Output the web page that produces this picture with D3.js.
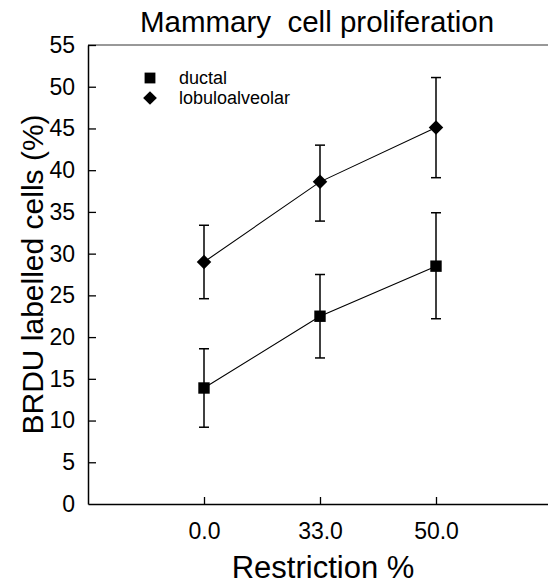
<!DOCTYPE html>
<html>
<head>
<meta charset="utf-8">
<script src="https://cdn.jsdelivr.net/npm/d3@7"></script>
<style>
  body { margin: 0; background: #fff; }
  svg { display: block; font-family: "Liberation Sans", Arial, sans-serif; }
</style>
</head>
<body>
<div id="chart"></div>
<script>
// Setting up sizes
const width = 548;
const height = 586;

const margin = {
  top: 45,
  right: -4,
  bottom: 82,
  left: 88
};

// Data
const restriction = ["0.0", "33.0", "50.0"];
const yTicks = [0, 5, 10, 15, 20, 25, 30, 35, 40, 45, 50, 55];

const ductal = [13.9, 22.5, 28.5];
const ductalLow = [9.2, 17.5, 22.2];
const ductalHigh = [18.6, 27.5, 34.9];

const lobulo = [29.0, 38.6, 45.1];
const lobuloLow = [24.6, 33.9, 39.1];
const lobuloHigh = [33.4, 43.0, 51.1];

const series = [
  { name: "ductal", rot: 0, size: 130, mean: ductal, low: ductalLow, high: ductalHigh },
  { name: "lobuloalveolar", rot: 45, size: 105, mean: lobulo, low: lobuloLow, high: lobuloHigh }
];

const svg = d3.select("#chart")
  .append("svg")
  .attr("width", width)
  .attr("height", height);

// Scales
const x = d3.scalePoint()
  .domain(restriction)
  .range([margin.left, width - margin.right])
  .padding(1);

const y = d3.scaleLinear()
  .domain([0, 55])
  .range([height - margin.bottom, margin.top]);

// Top frame line
svg.append("line")
  .attr("x1", margin.left)
  .attr("x2", width - margin.right)
  .attr("y1", y(55))
  .attr("y2", y(55))
  .attr("stroke", "#333")
  .attr("stroke-width", 1);

// Axes
const xAxis = svg.append("g")
  .attr("transform", `translate(0,${y(0)})`)
  .call(d3.axisBottom(x).tickSizeInner(-7).tickSizeOuter(0).tickPadding(19));

const yAxis = svg.append("g")
  .attr("transform", `translate(${margin.left},0)`)
  .call(d3.axisLeft(y).tickValues(yTicks).tickSizeInner(-8).tickSizeOuter(0).tickPadding(13));

yAxis.select(".tick:first-of-type line").remove();

[xAxis, yAxis].forEach(g => {
  g.select(".domain").attr("stroke", "#000").attr("stroke-width", 1.5);
  g.selectAll(".tick line").attr("stroke", "#000").attr("stroke-width", 1.3);
  g.selectAll(".tick text")
    .attr("fill", "#000")
    .style("font-family", "'Liberation Sans', Arial, sans-serif")
    .style("font-size", "23px");
});

// Series
series.forEach(s => {
  const pts = restriction.map((r, i) => ({ r, m: s.mean[i], lo: s.low[i], hi: s.high[i] }));

  svg.append("path")
    .datum(pts)
    .attr("fill", "none")
    .attr("stroke", "#000")
    .attr("stroke-width", 1.1)
    .attr("d", d3.line().x(d => x(d.r)).y(d => y(d.m)));

  const eb = svg.append("g")
    .selectAll("g")
    .data(pts)
    .enter()
    .append("g")
    .attr("stroke", "#000")
    .attr("stroke-width", 1.5);

  eb.append("line")
    .attr("x1", d => x(d.r)).attr("x2", d => x(d.r))
    .attr("y1", d => y(d.lo)).attr("y2", d => y(d.hi));

  eb.append("line")
    .attr("x1", d => x(d.r) - 5).attr("x2", d => x(d.r) + 5)
    .attr("y1", d => y(d.lo)).attr("y2", d => y(d.lo));

  eb.append("line")
    .attr("x1", d => x(d.r) - 5).attr("x2", d => x(d.r) + 5)
    .attr("y1", d => y(d.hi)).attr("y2", d => y(d.hi));

  svg.append("g")
    .selectAll("path")
    .data(pts)
    .enter()
    .append("path")
    .attr("transform", d => `translate(${x(d.r)},${y(d.m)}) rotate(${s.rot})`)
    .attr("d", d3.symbol().type(d3.symbolSquare).size(s.size))
    .attr("fill", "#000");
});

// Legend
const legend = svg.append("g")
  .attr("transform", "translate(150,78)");

legend.selectAll("path")
  .data(series)
  .enter()
  .append("path")
  .attr("transform", (d, i) => `translate(0,${i * 20}) rotate(${d.rot})`)
  .attr("d", d => d3.symbol().type(d3.symbolSquare).size(d.size * 0.9)())
  .attr("fill", "#000");

legend.selectAll("text")
  .data(series)
  .enter()
  .append("text")
  .attr("x", 29)
  .attr("y", (d, i) => i * 20 + 6)
  .style("font-size", "18px")
  .text(d => d.name);

// Titles
svg.append("text")
  .attr("x", 317)
  .attr("y", 32)
  .attr("text-anchor", "middle")
  .style("font-size", "29.5px")
  .style("white-space", "pre")
  .text("Mammary  cell proliferation");

svg.append("text")
  .attr("x", 323)
  .attr("y", 578)
  .attr("text-anchor", "middle")
  .style("font-size", "31px")
  .text("Restriction %");

svg.append("text")
  .attr("transform", `translate(43,${(y(0) + y(55)) / 2}) rotate(-90)`)
  .attr("text-anchor", "middle")
  .style("font-size", "30px")
  .text("BRDU labelled cells (%)");
</script>
</body>
</html>
